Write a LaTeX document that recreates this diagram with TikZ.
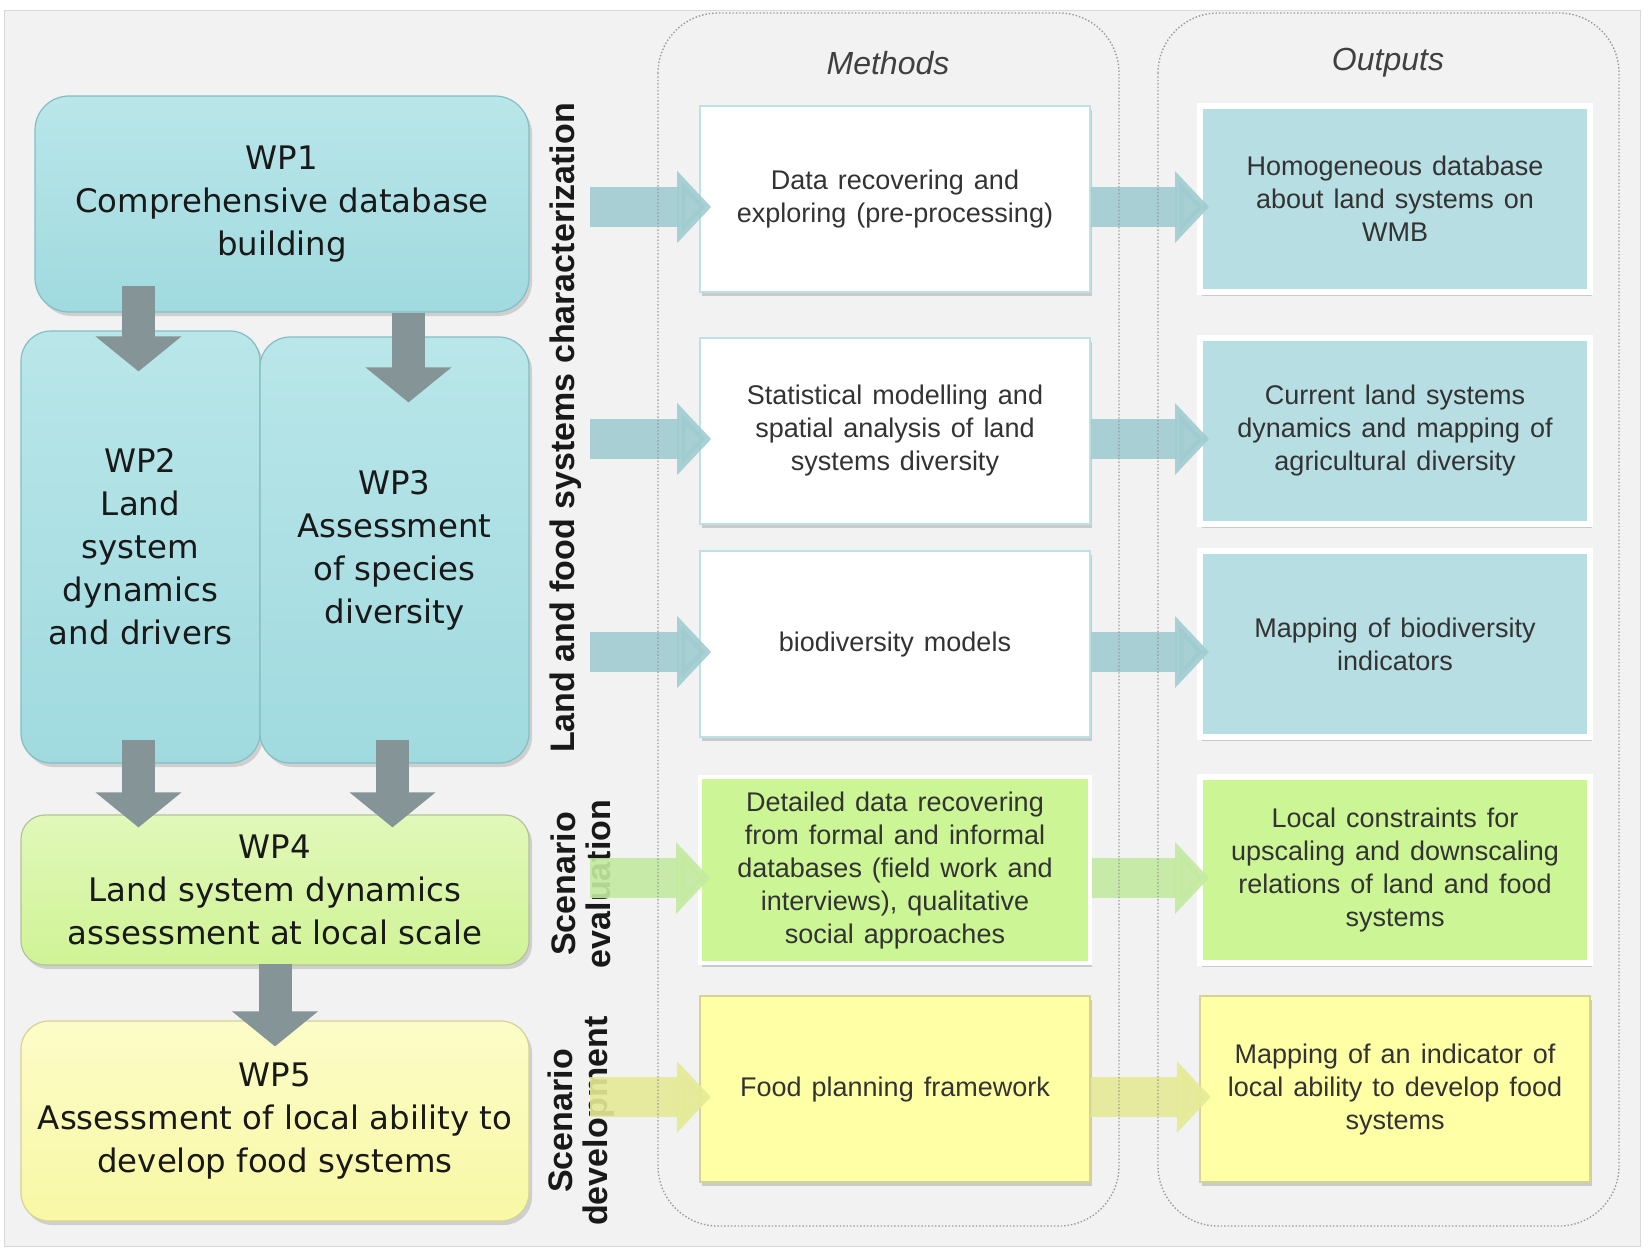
\documentclass[tikz,border=0pt]{standalone}
\usepackage{fontspec}
\setmainfont{Liberation Sans}
\newfontfamily\wpfont{DejaVu Sans}
\usetikzlibrary{positioning,shadows,arrows.meta}

\definecolor{bggray}{RGB}{242,242,242}
\definecolor{wpteal}{RGB}{160,218,223}
\definecolor{wptealtop}{RGB}{185,230,233}
\definecolor{wpedge}{RGB}{130,190,196}
\definecolor{wpgreen}{RGB}{208,243,150}
\definecolor{wpgreentop}{RGB}{225,248,185}
\definecolor{wpyellow}{RGB}{248,248,165}
\definecolor{wpyellowtop}{RGB}{252,252,200}
\definecolor{outteal}{RGB}{183,222,226}
\definecolor{boxgreen}{RGB}{204,245,150}
\definecolor{boxyellow}{RGB}{255,255,166}
\definecolor{yellowedge}{RGB}{212,212,150}
\definecolor{methedge}{RGB}{190,225,230}
\definecolor{arrteal}{RGB}{160,204,209}
\definecolor{arrgreen}{RGB}{196,234,160}
\definecolor{arryellow}{RGB}{228,234,150}
\definecolor{downgray}{RGB}{133,148,150}

\tikzset{
  wpbox/.style={rounded corners=15pt, draw=wpedge, line width=0.6pt, align=center,
    inner sep=0pt, text=black!90, font=\wpfont\fontsize{16.2}{21.5}\selectfont,
    drop shadow={shadow xshift=1.5pt, shadow yshift=-2pt, opacity=0.3}},
  tealbox/.style={wpbox, top color=wptealtop, bottom color=wpteal},
  greenbox/.style={wpbox, top color=wpgreentop, bottom color=wpgreen, draw=wpgreen!70!black!70},
  yellowbox/.style={wpbox, top color=wpyellowtop, bottom color=wpyellow, draw=yellowedge},
  methbox/.style={minimum width=195pt, minimum height=93pt, align=center, inner sep=2pt,
    text=black!80, font={\fontsize{13.5}{16.5}\selectfont\spaceskip=5pt\relax},
    drop shadow={shadow xshift=1.2pt, shadow yshift=-1.8pt, opacity=0.35}},
  methwhite/.style={methbox, fill=white, draw=methedge, line width=0.8pt},
  methgreen/.style={methbox, fill=boxgreen, draw=white, line width=2pt},
  methyellow/.style={methbox, fill=boxyellow, draw=yellowedge, line width=1.2pt},
  outteal/.style={methbox, fill=outteal, draw=white, line width=3pt},
  outgreen/.style={methbox, fill=boxgreen, draw=white, line width=3pt},
  outyellow/.style={methbox, fill=boxyellow, draw=yellowedge, line width=1.2pt},
  vlabel/.style={rotate=90, align=center, inner sep=0pt, text=black!90,
    font=\bfseries\fontsize{17}{17.5}\selectfont},
  coltitle/.style={font=\itshape\fontsize{16}{16}\selectfont, text=black!75},
  container/.style={draw=black!40, densely dotted, rounded corners=30pt, line width=0.7pt},
  downarrow/.style={draw=downgray, line width=16.5pt, -{Triangle[width=42pt,length=17.5pt]}},
  rowarrow/.style={draw=#1, line width=20pt, opacity=0.9, -{Triangle[width=35pt,length=17pt]}}
}

\begin{document}
\begin{tikzpicture}[x=0.5pt,y=-0.5pt]
% background
\fill[white] (0,0) rectangle (1643,1250);
\filldraw[fill=bggray, draw=black!15] (4,10) rectangle (1640,1246);

% work packages
\node[tealbox, minimum width=247pt, minimum height=108pt, rounded corners=17pt] (wp1) at (282,204)
  {WP1\\Comprehensive database\\building};
\node[tealbox, minimum width=119.5pt, minimum height=216pt] (wp2) at (140.5,547)
  {WP2\\Land\\system\\dynamics\\and drivers};
\node[tealbox, minimum width=134.5pt, minimum height=213pt] (wp3) at (394.5,550)
  {WP3\\Assessment\\of species\\diversity};
\node[greenbox, minimum width=254pt, minimum height=75pt, rounded corners=12pt] (wp4) at (275,890)
  {WP4\\Land system dynamics\\assessment at local scale};
\node[yellowbox, minimum width=254pt, minimum height=100pt, rounded corners=14pt] (wp5) at (275,1121)
  {WP5\\Assessment of local ability to\\develop food systems};

% side labels
\node[vlabel] (lblland) at (566,428) {Land and food systems characterization};
\node[vlabel] (lbleval) at (581,884) {Scenario\\evaluation};
\node[vlabel] (lbldev) at (581,1121) {Scenario\\development};

% methods
\node[methwhite] (meth1) at (895,199) {Data recovering and\\exploring (pre-processing)};
\node[methwhite] (meth2) at (895,431) {Statistical modelling and\\spatial analysis of land\\systems diversity};
\node[methwhite] (meth3) at (895,644) {biodiversity models};
\node[methgreen] (meth4) at (895,870) {Detailed data recovering\\from formal and informal\\databases (field work and\\interviews), qualitative\\social approaches};
\node[methyellow] (meth5) at (895,1089) {Food planning framework};

% outputs
\node[outteal] (out1) at (1395,199) {Homogeneous database\\about land systems on\\WMB};
\node[outteal] (out2) at (1395,431) {Current land systems\\dynamics and mapping of\\agricultural diversity};
\node[outteal] (out3) at (1395,644) {Mapping of biodiversity\\indicators};
\node[outgreen] (out4) at (1395,870) {Local constraints for\\upscaling and downscaling\\relations of land and food\\systems};
\node[outyellow] (out5) at (1395,1089) {Mapping of an indicator of\\local ability to develop food\\systems};

% down arrows between work packages
\draw[downarrow] ([xshift=-1pt,yshift=13.5pt]wp2.north |- wp1.south) -- ([xshift=-1pt,yshift=-20.5pt]wp2.north);
\draw[downarrow] ([xshift=7pt]wp3.north |- wp1.south) -- ([xshift=7pt,yshift=-33pt]wp3.north);
\draw[downarrow] ([xshift=-1pt,yshift=12pt]wp2.south) -- ([xshift=-1pt,yshift=-6.5pt]wp2.south |- wp4.north);
\draw[downarrow] ([xshift=-1pt,yshift=12pt]wp3.south) -- ([xshift=-1pt,yshift=-6.5pt]wp3.south |- wp4.north);
\draw[downarrow] ([yshift=1pt]wp4.south) -- ([yshift=-13pt]wp5.north);

% arrows into methods and outputs
\coordinate (tail) at (590,0);
\foreach \i/\c in {1/arrteal,2/arrteal,3/arrteal,4/arrgreen,5/arryellow} {
  \draw[rowarrow=\c] ([yshift=-4pt]tail |- meth\i.west) -- ([xshift=6pt,yshift=-4pt]meth\i.west);
  \draw[rowarrow=\c] ([yshift=-4pt]meth\i.east) -- ([xshift=6pt,yshift=-4pt]out\i.west);
}

% columns
\draw[container] (658,13) rectangle (1119,1226);
\draw[container] (1158,13) rectangle (1619,1226);
\node[coltitle] (methtitle) at (888,63) {Methods};
\node[coltitle] (outtitle) at (1388,63) {Outputs};
\end{tikzpicture}
\end{document}
